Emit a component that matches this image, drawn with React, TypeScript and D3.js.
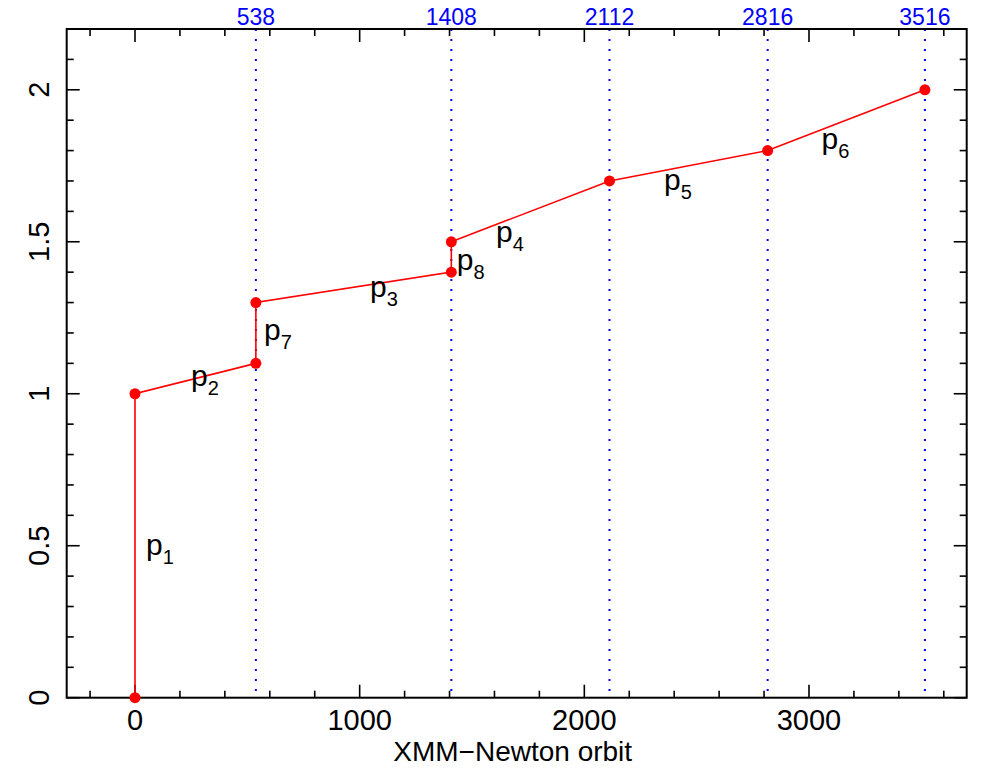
import React from "react";
import * as d3 from "d3";

const orbits = [0, 0, 538, 538, 1408, 1408, 2112, 2816, 3516];
const values = [0, 1, 1.1, 1.3, 1.4, 1.5, 1.7, 1.8, 2.0];
const markerOrbits = [538, 1408, 2112, 2816, 3516];
const labelNames = ["1", "2", "7", "3", "8", "4", "5", "6"];
const labelX = [49, 249, 574, 1046, 1432, 1607, 2355, 3056];
const labelY = [0.47, 1.027, 1.177, 1.319, 1.408, 1.5, 1.671, 1.805];
const xMajor = [0, 1000, 2000, 3000];
const yMajor = [0, 0.5, 1, 1.5, 2];
const xTitle = "XMM\u2212Newton orbit";

const W = 981;
const H = 770;
const L = 66.7, R = 966.7, T = 29, B = 697.7;
const FONT = "'Liberation Sans', Arial, Helvetica, sans-serif";

export default function App() {
  const x = d3.scaleLinear().domain([-304, 3702]).range([L, R]);
  const y = d3.scaleLinear().domain([0, 2.2]).range([B, T]);
  const xMinor = d3.range(-200, 3700, 200).filter((v) => !xMajor.includes(v));
  const yMinor = d3.range(0, 2.2, 0.1).map((v) => Math.round(v * 10) / 10).filter((v) => !yMajor.includes(v) && v < 2.15);
  const line = d3.line<number>().x((_, i) => x(orbits[i])).y((d) => y(d));
  const majLen = 13, minLen = 7;

  return (
    <svg width={W} height={H} style={{ position: "absolute", left: 0, top: 0, background: "#fff" }} fontFamily={FONT}>
      <rect width={W} height={H} fill="#fff" />
      {markerOrbits.map((o) => (
        <g key={"m" + o}>
          <line x1={x(o)} x2={x(o)} y1={T} y2={B} stroke="#0000ee" strokeWidth={2} strokeDasharray="2,8" />
          <text x={x(o)} y={25} fill="#0000ff" fontSize={23} textAnchor="middle">{o}</text>
        </g>
      ))}
      {xMajor.map((v) => (
        <g key={"xM" + v}>
          <line x1={x(v)} x2={x(v)} y1={B} y2={B - majLen} stroke="#000" strokeWidth={1.6} />
          <line x1={x(v)} x2={x(v)} y1={T} y2={T + majLen} stroke="#000" strokeWidth={1.6} />
          <text x={x(v)} y={729.5} fontSize={29} textAnchor="middle" fill="#000">{v}</text>
        </g>
      ))}
      {xMinor.map((v) => (
        <g key={"xm" + v}>
          <line x1={x(v)} x2={x(v)} y1={B} y2={B - minLen} stroke="#000" strokeWidth={1.6} />
          <line x1={x(v)} x2={x(v)} y1={T} y2={T + minLen} stroke="#000" strokeWidth={1.6} />
        </g>
      ))}
      {yMajor.map((v) => (
        <g key={"yM" + v}>
          <line x1={L} x2={L + majLen} y1={y(v)} y2={y(v)} stroke="#000" strokeWidth={1.6} />
          <line x1={R} x2={R - majLen} y1={y(v)} y2={y(v)} stroke="#000" strokeWidth={1.6} />
          <text transform={`translate(49,${y(v)}) rotate(-90)`} fontSize={29} textAnchor="middle" fill="#000">{v}</text>
        </g>
      ))}
      {yMinor.map((v) => (
        <g key={"ym" + v}>
          <line x1={L} x2={L + minLen} y1={y(v)} y2={y(v)} stroke="#000" strokeWidth={1.6} />
          <line x1={R} x2={R - minLen} y1={y(v)} y2={y(v)} stroke="#000" strokeWidth={1.6} />
        </g>
      ))}
      <rect x={L} y={T} width={R - L} height={B - T} fill="none" stroke="#000" strokeWidth={2} />
      <path d={line(values) || ""} fill="none" stroke="#ff0000" strokeWidth={1.6} />
      {values.map((v, i) => (
        <circle key={"c" + i} cx={x(orbits[i])} cy={y(v)} r={5.5} fill="#ff0000" />
      ))}
      {labelNames.map((n, i) => (
        <text key={"l" + n} x={x(labelX[i])} y={y(labelY[i])} fontSize={30} fill="#000">
          p<tspan fontSize={20} dy={9}>{n}</tspan>
        </text>
      ))}
      <text x={(L + R) / 2 - 4} y={761} fontSize={28} textAnchor="middle" fill="#000">{xTitle}</text>
    </svg>
  );
}
